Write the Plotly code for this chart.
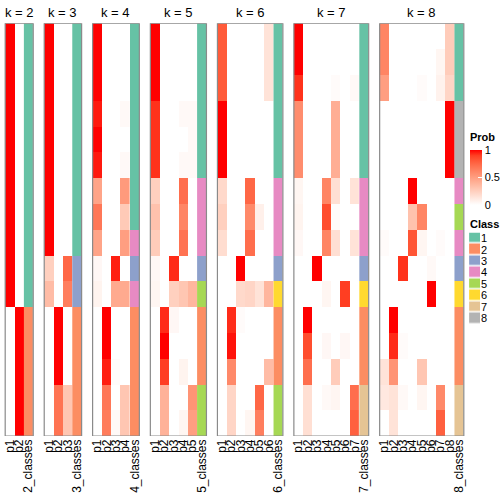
import numpy as np
import plotly.graph_objects as go

# ---------------- data ----------------
k_values = [2, 3, 4, 5, 6, 7, 8]

membership_k2 = [[1, 0]] * 11 + [[0, 1]] * 5
class_k2 = [1] * 11 + [2] * 5

membership_k3 = [[1, 0, 0]] * 9 + [
    [0.25, 0, 0.75],
    [0.35, 0, 0.65],
    [0, 1, 0], [0, 1, 0], [0, 1, 0],
    [0, 0.7, 0.3],
    [0, 0.7, 0.3],
]
class_k3 = [1] * 9 + [3, 3] + [2] * 5

membership_k4 = [
    [1, 0, 0, 0], [1, 0, 0, 0], [1, 0, 0, 0],
    [0.96, 0, 0, 0.03],
    [1, 0, 0, 0],
    [0.96, 0, 0, 0.03],
    [0.47, 0, 0, 0.52],
    [0.68, 0, 0, 0.28],
    [0.47, 0, 0, 0.5],
    [0.04, 0, 0.95, 0],
    [0.06, 0, 0.44, 0.44],
    [0, 1, 0, 0], [0, 1, 0, 0],
    [0, 0.95, 0.02, 0],
    [0, 0.68, 0, 0.3],
    [0, 0.66, 0.03, 0.3],
]
class_k4 = [1] * 8 + [4, 3, 4] + [2] * 5

membership_k5 = [
    [1, 0, 0, 0, 0], [1, 0, 0, 0, 0], [1, 0, 0, 0, 0],
    [0.92, 0, 0, 0.03, 0.03],
    [0.92, 0, 0, 0, 0.03],
    [0.92, 0, 0, 0.03, 0.03],
    [0.25, 0, 0, 0.72, 0],
    [0.32, 0, 0, 0.62, 0],
    [0.27, 0, 0, 0.7, 0],
    [0.04, 0, 0.93, 0, 0],
    [0.05, 0, 0.25, 0.3, 0.38],
    [0, 0.93, 0.04, 0, 0],
    [0, 1, 0, 0, 0],
    [0, 0.9, 0, 0.06, 0],
    [0, 0.4, 0, 0, 0.55],
    [0, 0.4, 0, 0.05, 0.5],
]
class_k5 = [1] * 6 + [4, 4, 4] + [3, 5] + [2, 2, 2] + [5, 5]

membership_k6 = [
    [0.8, 0, 0, 0, 0, 0.15], [0.8, 0, 0, 0, 0, 0.15], [0.8, 0, 0, 0, 0, 0.15],
    [1, 0, 0, 0, 0, 0], [1, 0, 0, 0, 0, 0], [1, 0, 0, 0, 0, 0],
    [0.2, 0, 0, 0.75, 0, 0],
    [0.25, 0, 0, 0.6, 0.08, 0],
    [0.18, 0, 0, 0.72, 0, 0],
    [0, 0, 1, 0, 0, 0],
    [0, 0, 0.2, 0.22, 0.15, 0.38],
    [0, 0.93, 0.02, 0, 0, 0],
    [0, 0.97, 0, 0, 0, 0],
    [0, 0.6, 0, 0, 0, 0.35],
    [0, 0.22, 0, 0, 0.75, 0],
    [0, 0.22, 0, 0.05, 0.65, 0],
]
class_k6 = [1] * 6 + [4, 4, 4] + [3, 6] + [2, 2, 2] + [5, 5]

membership_k7 = [
    [1, 0, 0, 0, 0, 0, 0], [1, 0, 0, 0, 0, 0, 0],
    [0.92, 0, 0, 0, 0.02, 0, 0.03],
    [0.58, 0, 0, 0, 0.42, 0, 0], [0.58, 0, 0, 0, 0.42, 0, 0], [0.58, 0, 0, 0, 0.42, 0, 0],
    [0.05, 0, 0, 0.62, 0.17, 0, 0.15],
    [0.06, 0, 0, 0.85, 0.02, 0, 0],
    [0.04, 0, 0, 0.62, 0.17, 0, 0.15],
    [0, 0, 1, 0, 0, 0, 0],
    [0, 0, 0, 0.05, 0, 0.9, 0],
    [0, 1, 0, 0, 0, 0, 0],
    [0, 0.85, 0, 0.04, 0, 0.04, 0],
    [0, 0.72, 0, 0, 0.27, 0, 0],
    [0, 0.17, 0, 0.03, 0.05, 0, 0.72],
    [0, 0.17, 0, 0, 0, 0, 0.78],
]
class_k7 = [1] * 6 + [4, 4, 4] + [3, 6] + [2, 2, 2] + [7, 7]

membership_k8 = [
    [0.62, 0, 0, 0, 0, 0, 0, 0.27],
    [0.62, 0, 0, 0, 0, 0, 0.05, 0.27],
    [0.5, 0, 0, 0, 0.02, 0, 0.07, 0.22],
    [0, 0, 0, 0, 0, 0, 0, 1], [0, 0, 0, 0, 0, 0, 0, 1], [0, 0, 0, 0, 0, 0, 0, 1],
    [0, 0, 0, 1, 0, 0, 0, 0],
    [0, 0, 0, 0.32, 0.62, 0, 0, 0],
    [0.02, 0, 0, 0.82, 0.05, 0, 0.02, 0],
    [0, 0, 0.92, 0, 0, 0.03, 0, 0],
    [0, 0, 0, 0, 0, 1, 0, 0],
    [0, 1, 0, 0, 0, 0, 0, 0],
    [0, 0.93, 0.02, 0, 0, 0, 0, 0],
    [0.15, 0.55, 0, 0, 0.3, 0, 0, 0],
    [0.12, 0.15, 0.03, 0, 0.05, 0, 0.6, 0],
    [0, 0.15, 0, 0, 0, 0, 0.78, 0],
]
class_k8 = [1, 1, 1, 8, 8, 8, 4, 5, 4, 3, 6, 2, 2, 2, 7, 7]

memberships = {2: membership_k2, 3: membership_k3, 4: membership_k4, 5: membership_k5,
               6: membership_k6, 7: membership_k7, 8: membership_k8}
classes = {2: class_k2, 3: class_k3, 4: class_k4, 5: class_k5,
           6: class_k6, 7: class_k7, 8: class_k8}

class_labels = ["1", "2", "3", "4", "5", "6", "7", "8"]
class_colors = ["#66C2A5", "#FC8D62", "#8DA0CB", "#E78AC3",
                "#A6D854", "#FFD92F", "#E5C494", "#B3B3B3"]
prob_ticks = [0, 0.5, 1]
prob_ticktext = ["0", "0.5", "1"]

# ---------------- styling / geometry ----------------
FONT = "Liberation Sans, Arial, Helvetica, sans-serif"
W = H = 504
CW = 9.37      # column width (px)
GAP = 11.0     # gap between panels (px)
X0 = 5.2
TOP_PX, BOT_PX = 23.3, 436.1
N_ROWS = len(class_k2)


def lab_to_hex(L, a, b):
    fy = (L + 16) / 116
    fx = fy + a / 500
    fz = fy - b / 200

    def finv(t):
        return t ** 3 if t ** 3 > 0.008856 else (t - 16 / 116) / 7.787
    X = 0.95047 * finv(fx)
    Y = finv(fy)
    Z = 1.08883 * finv(fz)
    r = 3.2406 * X - 1.5372 * Y - 0.4986 * Z
    g = -0.9689 * X + 1.8758 * Y + 0.0415 * Z
    bb = 0.0557 * X - 0.2040 * Y + 1.0570 * Z
    out = []
    for c in (r, g, bb):
        c = max(0.0, min(1.0, c))
        c = 12.92 * c if c <= 0.0031308 else 1.055 * c ** (1 / 2.4) - 0.055
        out.append(int(round(max(0, min(1, c)) * 255)))
    return "#%02X%02X%02X" % tuple(out)


white_lab = (100.0, 0.0, 0.0)
red_lab = (53.24, 80.09, 67.20)
prob_scale = []
for t in np.linspace(0, 1, 11):
    lab = [w + (r - w) * t for w, r in zip(white_lab, red_lab)]
    prob_scale.append([float(t), lab_to_hex(*lab)])

n_cls = len(class_colors)
class_scale = []
for i, c in enumerate(class_colors):
    class_scale.append([i / n_cls, c])
    class_scale.append([(i + 1) / n_cls, c])

fig = go.Figure()
shapes, annotations = [], []
tickvals, ticktext = [], []
y_edges = np.arange(N_ROWS + 1)

left = X0
for idx, k in enumerate(k_values):
    z = np.array(memberships[k], dtype=float)
    x_edges = left + CW * np.arange(k + 1)
    fig.add_trace(go.Heatmap(
        z=z, x=x_edges, y=y_edges, zmin=0, zmax=1, colorscale=prob_scale,
        showscale=(idx == 0), hoverinfo="skip",
        colorbar=dict(
            x=470 / W, xanchor="left", xpad=0, thickness=12,
            lenmode="pixels", len=55, y=1 - 150 / H, yanchor="top", ypad=0,
            outlinewidth=0, ticks="inside", ticklen=4, tickcolor="white",
            tickvals=prob_ticks, ticktext=prob_ticktext,
            tickfont=dict(size=11, family=FONT, color="black"),
        ),
    ))
    cx = left + CW * k
    fig.add_trace(go.Heatmap(
        z=[[c] for c in classes[k]], x=[cx, cx + CW], y=y_edges,
        zmin=0.5, zmax=n_cls + 0.5, colorscale=class_scale,
        showscale=False, hoverinfo="skip",
    ))
    right = left + CW * (k + 1)
    shapes.append(dict(type="rect", xref="x", yref="y", x0=left, x1=right,
                       y0=0, y1=N_ROWS, line=dict(color="#8a8a8a", width=1.2)))
    for j in range(k):
        tickvals.append(left + CW * (j + 0.5))
        ticktext.append("p%d" % (j + 1))
    tickvals.append(cx + CW / 2)
    ticktext.append("%d_classes" % k)
    annotations.append(dict(text="k = %d" % k, x=(left + right) / 2, y=1 - 12 / H,
                            xref="x", yref="paper", showarrow=False,
                            font=dict(size=13, family=FONT, color="black"),
                            xanchor="center", yanchor="middle"))
    left = right + GAP

# Class legend as a small heatmap on its own axes
cls_idx = list(range(1, n_cls + 1))
fig.add_trace(go.Heatmap(
    z=[[c] for c in cls_idx], x=[0], y=cls_idx, zmin=0.5, zmax=n_cls + 0.5,
    colorscale=class_scale, showscale=False, hoverinfo="skip",
    xgap=0, ygap=1.5, xaxis="x2", yaxis="y2",
))
annotations.append(dict(text="<b>Prob</b>", x=469 / W, y=1 - 137.5 / H,
                        xref="paper", yref="paper", showarrow=False,
                        xanchor="left", yanchor="middle",
                        font=dict(size=11, family=FONT, color="black")))
annotations.append(dict(text="<b>Class</b>", x=469 / W, y=1 - 224 / H,
                        xref="paper", yref="paper", showarrow=False,
                        xanchor="left", yanchor="middle",
                        font=dict(size=11, family=FONT, color="black")))

fig.update_layout(
    width=W, height=H, margin=dict(l=0, r=0, t=0, b=0),
    paper_bgcolor="white", plot_bgcolor="white",
    showlegend=False, font=dict(family=FONT, color="black"),
    xaxis=dict(domain=[0, 1], range=[0, W], showgrid=False, zeroline=False,
               showline=False, tickmode="array", tickvals=tickvals,
               ticktext=ticktext, tickangle=-90, ticks="",
               tickfont=dict(size=12, family=FONT, color="black"),
               fixedrange=True),
    yaxis=dict(domain=[1 - BOT_PX / H, 1 - TOP_PX / H], range=[N_ROWS, 0],
               showgrid=False, zeroline=False, showticklabels=False,
               showline=False, fixedrange=True),
    xaxis2=dict(domain=[470 / W, 481 / W], range=[-0.5, 0.5], anchor="y2",
                showgrid=False, zeroline=False, showticklabels=False,
                showline=False, fixedrange=True),
    yaxis2=dict(domain=[1 - 324 / H, 1 - 232.5 / H], range=[n_cls + 0.5, 0.5],
                anchor="x2", side="right", showgrid=False, zeroline=False,
                tickmode="array", tickvals=cls_idx, ticktext=class_labels,
                ticks="", tickfont=dict(size=11, family=FONT, color="black"),
                showline=False, fixedrange=True),
    shapes=shapes, annotations=annotations,
)

fig.write_html("out.html", config={"displayModeBar": False},
               post_script="document.body.style.margin='0';document.body.style.padding='0';")
